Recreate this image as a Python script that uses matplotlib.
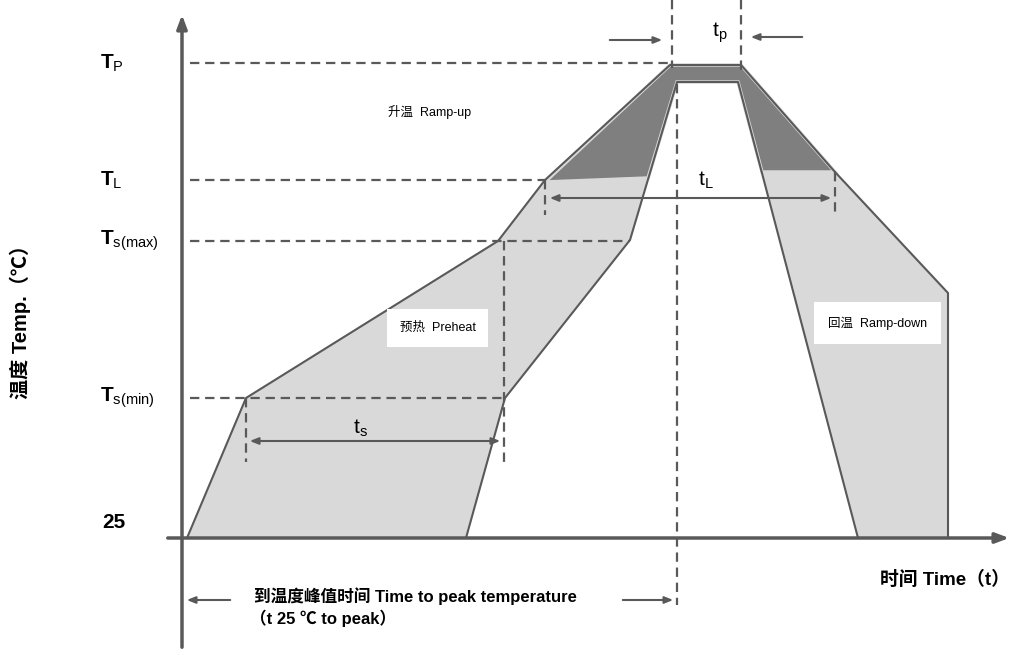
import matplotlib.pyplot as plt
from matplotlib.patches import Polygon

plt.rcParams['font.family'] = ['Liberation Sans', 'Noto Sans CJK SC', 'DejaVu Sans']
plt.rcParams['mathtext.fontset'] = 'custom'
plt.rcParams['mathtext.rm'] = 'Liberation Sans'
plt.rcParams['mathtext.bf'] = 'Liberation Sans:bold'

# diagram units (time to the right, temperature upward drawn on an inverted pixel-like scale)
level_names = [r'$\mathbf{T}_{\mathrm{P}}$', r'$\mathbf{T}_{\mathrm{L}}$',
               r'$\mathbf{T}_{\mathrm{s(max)}}$', r'$\mathbf{T}_{\mathrm{s(min)}}$']
level_y = [63, 180, 241, 398]
base_y = 538

# upper (hot) envelope of the profile window
outer_t = [187, 246, 498, 545, 670, 741, 835, 948, 948]
outer_y = [538, 398, 241, 180, 65, 65, 172, 293, 538]
# lower (cold) envelope of the profile window
inner_t = [466, 505, 630, 677, 738, 858]
inner_y = [538, 398, 240, 82, 82, 538]
# region above liquidus
liq_t = [545, 670, 741, 835, 762, 738, 677, 648]
liq_y = [182, 65, 65, 172, 172, 82, 82, 178]

line_c = '#595959'
light = '#d9d9d9'
dark = '#7f7f7f'

fig = plt.figure(figsize=(10.12, 6.55), dpi=100)
ax = fig.add_axes([0, 0, 1, 1])
ax.set_xlim(0, 1012)
ax.set_ylim(655, 0)
ax.axis('off')

# light window
poly = list(zip(outer_t, outer_y)) + list(zip(inner_t, inner_y))[::-1]
ax.add_patch(Polygon(poly, closed=True, facecolor=light, edgecolor='none', zorder=1))
ax.add_patch(Polygon(list(zip(liq_t, liq_y)), closed=True, facecolor=dark,
                     edgecolor=light, lw=2.5, zorder=2))
ax.plot(outer_t, outer_y, color=line_c, lw=1.5, zorder=3)
ax.plot(inner_t, inner_y, color=line_c, lw=1.5, zorder=3)

# axes with arrows
ax.annotate('', xy=(182, 12), xytext=(182, 650),
            arrowprops=dict(arrowstyle='-|>,head_length=0.8,head_width=0.3', color=line_c, lw=2.5), zorder=5)
ax.annotate('', xy=(1012, base_y), xytext=(165, base_y),
            arrowprops=dict(arrowstyle='-|>,head_length=0.8,head_width=0.3', color=line_c, lw=2.5), zorder=5)

dash = dict(color=line_c, lw=1.6, dashes=(4.2, 2.6), zorder=4)
# horizontal guides
ax.plot([190, 670], [63, 63], **dash)
ax.plot([190, 545], [180, 180], **dash)
ax.plot([190, 630], [241, 241], **dash)
ax.plot([190, 505], [398, 398], **dash)
# vertical guides
ax.plot([246, 246], [398, 462], **dash)
ax.plot([504, 504], [241, 465], **dash)
ax.plot([545, 545], [180, 215], **dash)
ax.plot([835, 835], [172, 213], **dash)
ax.plot([672, 672], [0, 68], **dash)
ax.plot([677, 677], [84, 605], **dash)
ax.plot([741, 741], [0, 70], **dash)

arr = dict(arrowstyle='-|>,head_length=0.5,head_width=0.2', color=line_c, lw=1.5)
darr = dict(arrowstyle='<|-|>,head_length=0.5,head_width=0.2', color=line_c, lw=1.5)
ax.annotate('', xy=(665, 40), xytext=(607, 40), arrowprops=arr)
ax.annotate('', xy=(748, 37), xytext=(805, 37), arrowprops=arr)
ax.annotate('', xy=(547, 198), xytext=(834, 198), arrowprops=darr, zorder=4)
ax.annotate('', xy=(247, 441), xytext=(503, 441), arrowprops=darr, zorder=4)
ax.annotate('', xy=(184, 600), xytext=(233, 600), arrowprops=arr)
ax.annotate('', xy=(676, 600), xytext=(620, 600), arrowprops=arr)

# level labels
for name, y in zip(level_names, level_y):
    ax.text(100, y, name, fontsize=15, ha='left', va='center')
ax.text(102, 522, '25', fontsize=15, fontweight='bold', ha='left', va='center')

ax.text(712, 33, r'$\mathrm{t}_{\mathrm{p}}$', fontsize=15, ha='left', va='center')
ax.text(698, 180, r'$\mathrm{t}_{\mathrm{L}}$', fontsize=15, ha='left', va='center')
ax.text(353, 428, r'$\mathrm{t}_{\mathrm{s}}$', fontsize=15, ha='left', va='center')

ax.text(20, 317, '温度 Temp.（℃）', fontsize=14.5, fontweight='bold', rotation=90,
        ha='center', va='center')
ax.text(1010, 580, '时间 Time（t）', fontsize=13.5, fontweight='bold', ha='right', va='center')
ax.text(254, 596, '到温度峰值时间 Time to peak temperature', fontsize=12, fontweight='bold',
        ha='left', va='center')
ax.text(250, 618, '（t 25 ℃ to peak）', fontsize=12, fontweight='bold', ha='left', va='center')

ax.text(388, 112, '升温  Ramp-up', fontsize=9, ha='left', va='center')
ax.text(400, 328, '预热  Preheat', fontsize=9, ha='left', va='center', zorder=6,
        bbox=dict(boxstyle='square,pad=1.0', facecolor='white', edgecolor='none'))
ax.text(828, 323, '回温  Ramp-down', fontsize=9, ha='left', va='center', zorder=6,
        bbox=dict(boxstyle='square,pad=1.15', facecolor='white', edgecolor='none'))

fig.savefig('out.png', dpi=100)
